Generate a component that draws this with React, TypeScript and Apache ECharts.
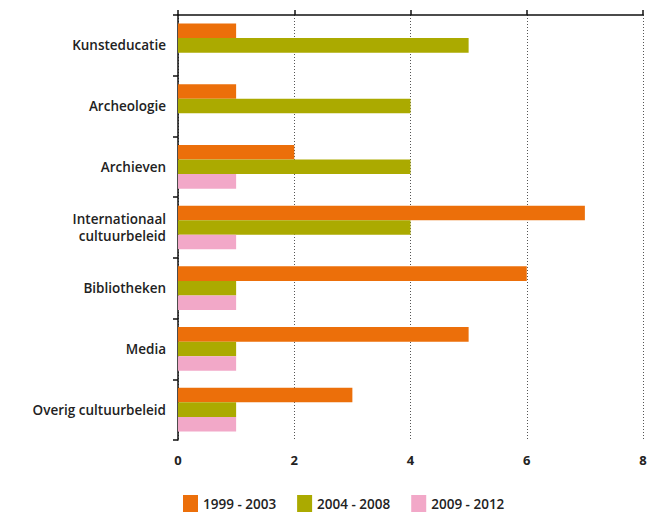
import React, { useEffect, useRef } from "react";
import * as echarts from "echarts";

const categories = [
  "Kunsteducatie",
  "Archeologie",
  "Archieven",
  "Internationaal\ncultuurbeleid",
  "Bibliotheken",
  "Media",
  "Overig cultuurbeleid",
];
const seriesNames = ["1999 - 2003", "2004 - 2008", "2009 - 2012"];
const values1999 = [1, 1, 2, 7, 6, 5, 3];
const values2004 = [5, 4, 4, 4, 1, 1, 1];
const values2009 = [0, 0, 1, 1, 1, 1, 1];
const colors = ["#EC6F0A", "#ABAA00", "#F2A8C8"];

const FONT = "'Open Sans', sans-serif";

export default function App() {
  const ref = useRef<HTMLDivElement>(null);
  useEffect(() => {
    if (!ref.current) return;
    const chart = echarts.init(ref.current, null, { renderer: "svg" });
    const data = [values1999, values2004, values2009];
    chart.setOption({
      animation: false,
      grid: { left: 178, right: 14, top: 15, bottom: 72, containLabel: false },
      legend: {
        left: 178,
        top: 490,
        itemWidth: 15,
        itemHeight: 17,
        itemGap: 21,
        icon: "rect",
        textStyle: { fontFamily: FONT, fontSize: 13.5, fontWeight: 600, color: "#222" },
        data: seriesNames,
      },
      xAxis: [
        {
          type: "value",
          position: "bottom",
          min: 0,
          max: 8,
          interval: 2,
          axisLine: { show: false },
          axisTick: { show: false },
          axisLabel: {
            margin: 13,
            fontFamily: FONT,
            fontSize: 13,
            fontWeight: 700,
            color: "#222",
          },
          splitLine: {
            show: true,
            lineStyle: { color: "#555", type: [1, 2], width: 1 },
          },
        },
        {
          type: "value",
          position: "top",
          min: 0,
          max: 8,
          interval: 2,
          axisLine: { show: true, lineStyle: { color: "#111", width: 1.5 } },
          axisTick: { show: true, length: 5, lineStyle: { color: "#111", width: 1.5 } },
          axisLabel: { show: false },
          splitLine: { show: false },
        },
      ],
      yAxis: {
        type: "category",
        inverse: true,
        data: categories,
        axisLine: { show: true, lineStyle: { color: "#111", width: 1.5 } },
        axisTick: { show: true, length: 5, lineStyle: { color: "#111", width: 1.5 } },
        axisLabel: {
          margin: 12,
          fontFamily: FONT,
          fontSize: 13.5,
          fontWeight: 600,
          color: "#222",
          lineHeight: 17,
          align: "right",
        },
        splitLine: { show: false },
      },
      series: seriesNames.map((name, i) => ({
        name,
        type: "bar",
        xAxisIndex: 0,
        data: data[i],
        barGap: "0%",
        barCategoryGap: "28%",
        itemStyle: { color: colors[i] },
      })),
    });
    return () => chart.dispose();
  }, []);
  return (
    <div
      ref={ref}
      style={{ position: "absolute", left: 0, top: 0, width: 657, height: 512 }}
    />
  );
}
